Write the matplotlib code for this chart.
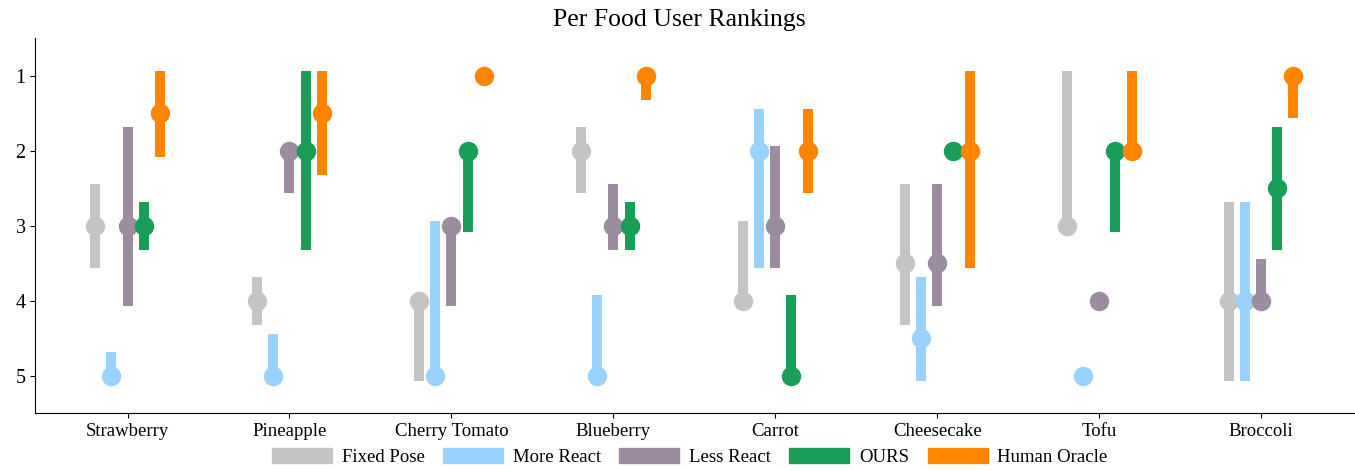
import numpy as np
import matplotlib.pyplot as plt
from matplotlib.patches import Patch

# foods and methods
foods = ['Strawberry', 'Pineapple', 'Cherry Tomato', 'Blueberry',
         'Carrot', 'Cheesecake', 'Tofu', 'Broccoli']
methods = ['Fixed Pose', 'More React', 'Less React', 'OURS', 'Human Oracle']
colors = ['#C4C4C4', '#99D1FF', '#9B8CA0', '#189E56', '#FF8500']

# median rank per food (rows = methods)
fixed_pose_med = [3, 4, 4, 2, 4, 3.5, 3, 4]
more_react_med = [5, 5, 5, 5, 2, 4.5, 5, 4]
less_react_med = [3, 2, 3, 3, 3, 3.5, 4, 4]
ours_med = [3, 2, 2, 3, 5, 2, 2, 2.5]
oracle_med = [1.5, 1.5, 1, 1, 2, 2, 2, 1]

# range bars (low = top of bar, high = bottom of bar)
fixed_pose_lo = [2.44, 3.68, 4.0, 1.69, 2.94, 2.44, 0.94, 2.68]
fixed_pose_hi = [3.57, 4.32, 5.07, 2.57, 4.0, 4.32, 3.0, 5.07]
more_react_lo = [4.68, 4.44, 2.94, 3.93, 1.44, 3.68, 5, 2.68]
more_react_hi = [5, 5, 5, 5, 3.57, 5.07, 5, 5.07]
less_react_lo = [1.69, 2.0, 3.0, 2.44, 1.94, 2.44, 4, 3.44]
less_react_hi = [4.07, 2.57, 4.07, 3.32, 3.57, 4.07, 4, 4.0]
ours_lo = [2.68, 0.94, 2.0, 2.68, 3.93, 2, 2.0, 1.69]
ours_hi = [3.32, 3.32, 3.08, 3.32, 5.0, 2, 3.08, 3.32]
oracle_lo = [0.94, 0.94, 1, 1.0, 1.44, 0.94, 0.94, 1.0]
oracle_hi = [2.08, 2.32, 1, 1.32, 2.57, 3.57, 2.0, 1.57]

medians = [fixed_pose_med, more_react_med, less_react_med, ours_med, oracle_med]
lows = [fixed_pose_lo, more_react_lo, less_react_lo, ours_lo, oracle_lo]
highs = [fixed_pose_hi, more_react_hi, less_react_hi, ours_hi, oracle_hi]

plt.rcParams['font.family'] = ['Liberation Serif', 'DejaVu Serif']

fig = plt.figure(figsize=(13.55, 4.7), dpi=100)
ax = fig.add_axes([0.026, 0.121, 0.974, 0.798])

x = np.arange(len(foods))
offsets = [-0.2, -0.1, 0.0, 0.1, 0.2]
for i in range(len(methods)):
    xs = x + offsets[i]
    ax.vlines(xs, lows[i], highs[i], color=colors[i], linewidth=7.2,
              zorder=2 + i)
    ax.plot(xs, medians[i], 'o', color=colors[i], markersize=13,
            linestyle='none', zorder=2 + i)

ax.set_xlim(-0.57, 7.58)
ax.set_ylim(5.5, 0.5)
ax.set_yticks([1, 2, 3, 4, 5])
ax.set_xticks(x)
ax.set_xticklabels(foods, fontsize=13.5)
ax.tick_params(axis='y', labelsize=14.5)
ax.spines['top'].set_visible(False)
ax.spines['right'].set_visible(False)
ax.set_title('Per Food User Rankings', fontsize=18.5, pad=9, x=0.488)

handles = [Patch(color=c, label=m) for c, m in zip(colors, methods)]
fig.legend(handles=handles, loc='center', bbox_to_anchor=(0.509, 0.028),
           ncol=5, frameon=False, fontsize=13.5, handlelength=3.2,
           handleheight=0.9, columnspacing=1.0, handletextpad=0.5)

fig.savefig('out.png', dpi=100)
